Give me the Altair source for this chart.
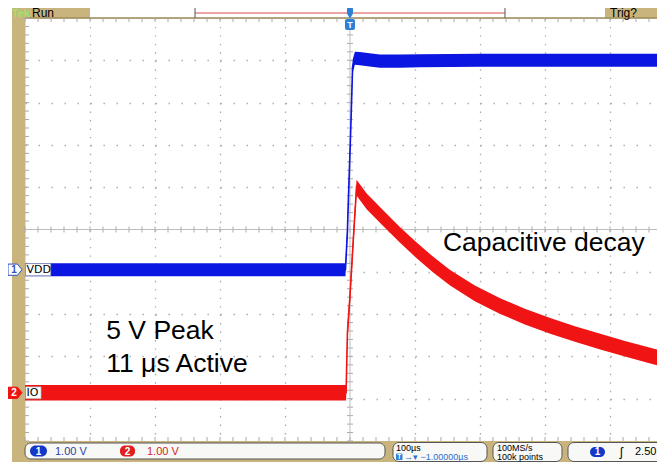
import altair as alt
import pandas as pd

# ---------------- data read from the screen capture ----------------
# time in microseconds relative to the trigger (100 us/div); voltage in volts (1 V/div)
vdd_t = [-500, -7, -4, -2.5, 1, 4, 7.5, 15, 30, 46, 77, 108, 200, 300, 400, 485]
vdd_v = [0.0, 0.0, 0.9, 1.65, 3.25, 4.8, 5.0, 4.99, 4.96, 4.93, 4.93, 4.94, 4.95, 4.95, 4.95, 4.95]

io_t = [-500, -6, -4, 0, 5, 10, 26, 51, 77, 103, 128, 154, 192, 231, 269, 308, 346, 385, 423, 462, 485]
io_v = [0.0, 0.0, 1.4, 2.3, 3.6, 4.85, 4.52, 4.13, 3.73, 3.36, 3.03, 2.72, 2.35, 2.05, 1.8, 1.58, 1.39, 1.21,
        1.04, 0.88, 0.78]

ch_names = ["VDD", "IO"]
ch_ground_div = [-0.95, -3.86]      # on-screen ground position of each channel (divisions)

ann_text = ["Capacitive decay", "5 V Peak", "11 μs Active"]
ann_t = [143, -375, -375]
ann_div = [-0.5, -2.6, -3.36]

major_t = [-400, -300, -200, -100, 100, 200, 300, 400]
major_div = [-4, -3, -2, -1, 1, 2, 3, 4]
minor_t = [-500 + 20 * i for i in range(49)]
minor_div = [round(-5 + 0.2 * i, 2) for i in range(51)]

# ---------------- styling ----------------
W, H = 632, 423
KHAKI = "#c8b47c"
KHAKI_LINE = "#9e8b57"
GRID = "#a9a9a9"
BLUE = "#0b16e0"
RED = "#f01414"
UI_FONT = "Liberation Sans"
ANN_FONT = "Liberation Sans"

xs = alt.Scale(domain=[-500, 472.3], nice=False, zero=False)
ys = alt.Scale(domain=[-5, 5], nice=False, zero=False)
AX = alt.Axis(values=major_t, grid=True, labels=False, ticks=False, domain=False, title=None,
              gridColor=GRID, gridDash=[1.4, 7.06], gridWidth=1.3)
AY = alt.Axis(values=major_div, grid=True, labels=False, ticks=False, domain=False, title=None,
              gridColor=GRID, gridDash=[1.4, 11.6], gridWidth=1.3)

ONE = alt.Data(values=[{"a": 1}])


def X(f):
    return alt.X(f, scale=xs, axis=AX)


def Y(f):
    return alt.Y(f, scale=ys, axis=AY)


def rect(x1, x2, y1, y2, **kw):
    return alt.Chart(ONE).mark_rect(**kw).encode(
        x=alt.value(x1), x2=alt.value(x2), y=alt.value(y1), y2=alt.value(y2))


def hrule(x1, x2, y, **kw):
    return alt.Chart(ONE).mark_rule(**kw).encode(x=alt.value(x1), x2=alt.value(x2), y=alt.value(y))


def vrule(x, y1, y2, **kw):
    return alt.Chart(ONE).mark_rule(**kw).encode(x=alt.value(x), y=alt.value(y1), y2=alt.value(y2))


def text(x, y, s, align="left", **kw):
    return alt.Chart(ONE).mark_text(text=s, align=align, baseline="alphabetic", **kw).encode(
        x=alt.value(x), y=alt.value(y))


layers = []

# ---- frame decorations (behind everything) ----
layers.append(rect(-13, 0, -10, 460, color=KHAKI))
layers.append(rect(-13, 65, -10, 0, color=KHAKI))
layers.append(rect(580, 640, -10, 0, color=KHAKI))
layers.append(rect(-13, 640, 423, 460, color=KHAKI))
layers.append(hrule(0, 640, 0, color=KHAKI_LINE, strokeWidth=1.5))
layers.append(text(-13, -1, "Tek", font=UI_FONT, fontSize=11, color="#9be36a", fontWeight="bold"))
layers.append(text(7, -1, "Run", font=UI_FONT, fontSize=12, color="black"))
layers.append(text(585, -1, "Trig?", font=UI_FONT, fontSize=12, color="black"))
layers.append(hrule(170, 480, -5, color="#e58585", strokeWidth=1.4))
layers.append(vrule(170, -10, 0, color="#555", strokeWidth=1))
layers.append(vrule(480, -10, 0, color="#555", strokeWidth=1))

# ---- graticule ----
minor_t_df = pd.DataFrame({"t": minor_t})
minor_v_df = pd.DataFrame({"d": minor_div})
layers.append(alt.Chart(minor_t_df).mark_rule(color=GRID, strokeWidth=1).encode(
    x=X("t:Q"), y=alt.value(0), y2=alt.value(4)))
layers.append(alt.Chart(minor_t_df).mark_rule(color=GRID, strokeWidth=1).encode(
    x=X("t:Q"), y=alt.value(H / 2 - 3), y2=alt.value(H / 2 + 3)))
layers.append(alt.Chart(minor_t_df).mark_rule(color=GRID, strokeWidth=1).encode(
    x=X("t:Q"), y=alt.value(H - 4), y2=alt.value(H)))
layers.append(alt.Chart(minor_v_df).mark_rule(color=GRID, strokeWidth=1).encode(
    y=Y("d:Q"), x=alt.value(0), x2=alt.value(4)))
layers.append(alt.Chart(minor_v_df).mark_rule(color=GRID, strokeWidth=1).encode(
    y=Y("d:Q"), x=alt.value(325 - 3), x2=alt.value(325 + 3)))
layers.append(alt.Chart(ONE).mark_rule(color="#bdbdbd", strokeWidth=1).encode(x=alt.datum(0, scale=xs)))
layers.append(alt.Chart(ONE).mark_rule(color="#bdbdbd", strokeWidth=1).encode(y=alt.datum(0, scale=ys)))


# ---- traces (noise band + core line) ----
def trace(t, v, ground, half, color):
    df = pd.DataFrame({"t": t, "v": v})
    base = alt.Chart(df).transform_calculate(
        pos=f"datum.v + ({ground})",
        lo=f"datum.v + ({ground}) - {half}",
        hi=f"datum.v + ({ground}) + {half}",
    )
    band = base.mark_area(color=color, opacity=1, clip=True).encode(
        x=X("t:Q"), y=Y("lo:Q"), y2="hi:Q")
    core = base.mark_line(color=color, strokeWidth=1.6, clip=True).encode(x=X("t:Q"), y=Y("pos:Q"))
    return [band, core]


layers += trace(vdd_t, vdd_v, ch_ground_div[0], 0.155, BLUE)
layers += trace(io_t, io_v, ch_ground_div[1], 0.185, RED)

# ---- trigger markers ----
layers.append(rect(322, 328, -11, -4, color="#2e7fd6", cornerRadius=2))
layers.append(alt.Chart(ONE).mark_point(shape="triangle-down", filled=True, color="#2e7fd6", size=40,
                                        opacity=1).encode(x=alt.value(325), y=alt.value(-2)))
layers.append(rect(320, 330, 1, 12, color="#2e7fd6", cornerRadius=2))
layers.append(text(325, 10, "T", align="center", font=UI_FONT, fontSize=9, fontWeight="bold", color="white"))

# ---- annotations ----
ann_df = pd.DataFrame({"label": ann_text, "t": ann_t, "d": ann_div})
layers.append(alt.Chart(ann_df).mark_text(align="left", baseline="alphabetic", font=ANN_FONT,
                                          fontSize=26.5, color="black").encode(
    x=X("t:Q"), y=Y("d:Q"), text="label:N"))

# ---- channel labels at left ----
lab_df = pd.DataFrame({"name": ch_names, "d": ch_ground_div, "num": ["1", "2"]})
box_shapes = ["M0,-1 L4.2,-1 L4.2,1 L0,1 Z", "M0,-1 L2.6,-1 L2.6,1 L0,1 Z"]
for i in range(2):
    layers.append(alt.Chart(lab_df.iloc[[i]]).mark_point(
        shape=box_shapes[i], filled=True, fill="white", stroke="#999", strokeWidth=0.6,
        size=144, opacity=1).encode(y=Y("d:Q"), x=alt.value(0.5)))
layers.append(alt.Chart(lab_df).mark_text(align="left", baseline="middle", font="DejaVu Sans", fontSize=11,
                                          color="black").encode(
    y=Y("d:Q"), x=alt.value(1.5), text="name:N"))
layers.append(alt.Chart(lab_df).mark_point(
    shape="M-1,-0.8 L0.35,-0.8 L1,0 L0.35,0.8 L-1,0.8 Z", filled=True, size=196, opacity=1,
    strokeWidth=1).encode(
    y=Y("d:Q"), x=alt.value(-10),
    fill=alt.Fill("name:N", scale=alt.Scale(domain=ch_names, range=["white", RED]), legend=None),
    stroke=alt.Stroke("name:N", scale=alt.Scale(domain=ch_names, range=["#3050c0", RED]), legend=None)))
layers.append(alt.Chart(lab_df).mark_text(align="center", baseline="middle", font=UI_FONT, fontSize=10,
                                          fontWeight="bold").encode(
    y=Y("d:Q"), x=alt.value(-11), text="num:N",
    color=alt.Color("name:N", scale=alt.Scale(domain=ch_names, range=["#3050c0", "white"]), legend=None)))

# ---- bottom readouts ----
BOX = dict(fill="#f8f8f6", stroke="#555555", strokeWidth=1, cornerRadius=6)
layers.append(rect(0, 360, 425, 441, **BOX))
layers.append(rect(368, 462, 424.5, 443.5, **BOX))
layers.append(rect(468, 537, 424.5, 443.5, **BOX))
layers.append(rect(543, 680, 424.5, 443.5, **BOX))

layers.append(rect(5, 22, 427.5, 438.5, color="#1437c8", cornerRadius=6))
layers.append(text(13.5, 437, "1", align="center", font=UI_FONT, fontSize=10, fontWeight="bold", color="white"))
layers.append(text(30, 437, "1.00 V", font=UI_FONT, fontSize=11, color="#2d3fa8"))
layers.append(rect(95, 110, 427.5, 438.5, color="#e02020", cornerRadius=5))
layers.append(text(102.5, 437, "2", align="center", font=UI_FONT, fontSize=10, fontWeight="bold", color="white"))
layers.append(text(122, 437, "1.00 V", font=UI_FONT, fontSize=11, color="#d02525"))

layers.append(text(371, 432.5, "100µs", font=UI_FONT, fontSize=9, color="black"))
layers.append(rect(371, 377.5, 435.5, 442, color="#2e7fd6", cornerRadius=1))
layers.append(text(374.2, 441.3, "T", align="center", font=UI_FONT, fontSize=6.5, fontWeight="bold",
                   color="white"))
layers.append(text(379, 442, "→▾ −1.00000µs", font=UI_FONT, fontSize=9, color="#2e6fd0"))

layers.append(text(472, 432.5, "100MS/s", font=UI_FONT, fontSize=9, color="black"))
layers.append(text(472, 442, "100k points", font=UI_FONT, fontSize=9, color="black"))

layers.append(rect(565, 580, 429, 439, color="#1437c8", cornerRadius=6))
layers.append(text(572.5, 437, "1", align="center", font=UI_FONT, fontSize=10, fontWeight="bold", color="white"))
layers.append(text(595, 437.5, "ʃ", font=UI_FONT, fontSize=12, color="black"))
layers.append(text(610, 437, "2.50 V", font=UI_FONT, fontSize=11, color="black"))

chart = alt.layer(*layers).properties(
    width=W, height=H,
    autosize=alt.AutoSizeParams(type="none"),
    padding={"left": 17, "top": 10, "right": 0, "bottom": 21},
).configure_view(stroke=None).configure(background="white")

chart.save("out.html", embed_options={"renderer": "svg", "actions": False})
